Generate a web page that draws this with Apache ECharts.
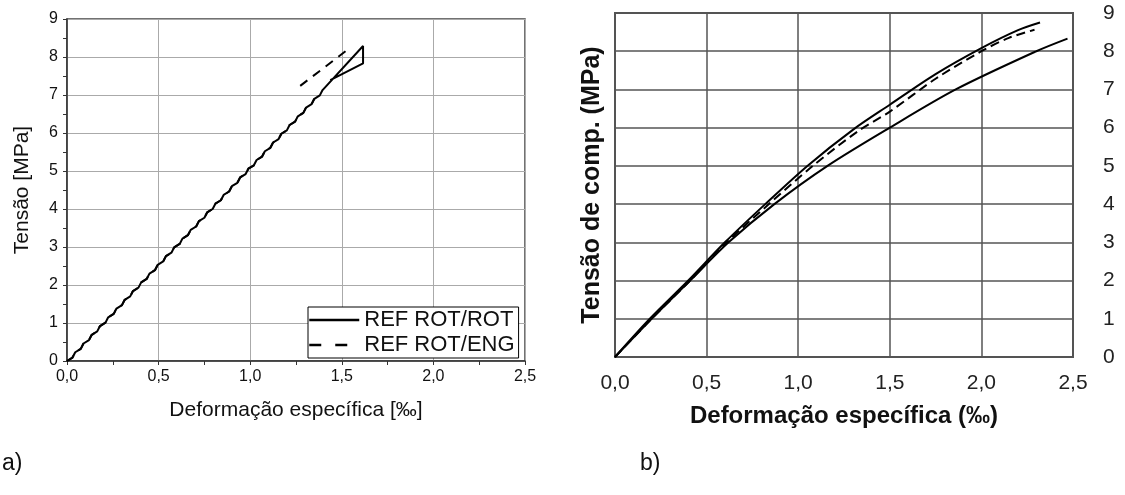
<!DOCTYPE html>
<html>
<head>
<meta charset="utf-8">
<script src="https://cdn.jsdelivr.net/npm/echarts@6/dist/echarts.min.js"></script>
<style>
  html, body { margin: 0; padding: 0; background: #fff; }
  #chart { width: 1125px; height: 495px; }
</style>
</head>
<body>
<div id="chart"></div>
<script>
// ---- a) strain [‰] vs stress [MPa], stepped loading branch shared by both tests
const loadBranch = [
  [0.000,0.00],[0.030,0.09],[0.045,0.23],[0.075,0.32],[0.090,0.46],[0.120,0.55],
  [0.135,0.69],[0.165,0.78],[0.180,0.92],[0.210,1.01],[0.225,1.15],[0.255,1.24],
  [0.270,1.38],[0.300,1.47],[0.315,1.61],[0.345,1.70],[0.360,1.84],[0.390,1.93],
  [0.405,2.07],[0.435,2.16],[0.450,2.30],[0.480,2.39],[0.495,2.53],[0.525,2.62],
  [0.540,2.76],[0.570,2.85],[0.585,2.99],[0.615,3.08],[0.630,3.22],[0.660,3.31],
  [0.675,3.45],[0.705,3.54],[0.720,3.68],[0.750,3.77],[0.765,3.91],[0.795,4.00],
  [0.810,4.14],[0.840,4.23],[0.855,4.37],[0.885,4.46],[0.900,4.60],[0.930,4.69],
  [0.945,4.83],[0.975,4.92],[0.990,5.06],[1.020,5.15],[1.035,5.29],[1.065,5.38],
  [1.080,5.52],[1.110,5.61],[1.125,5.75],[1.155,5.84],[1.170,5.98],[1.200,6.07],
  [1.215,6.21],[1.245,6.30],[1.260,6.44],[1.290,6.53],[1.305,6.67],[1.335,6.76],
  [1.350,6.90]
];
// REF ROT/ROT: continues to the peak, drops and unloads back onto the branch
const rotRotEnd = [[1.380,6.99],[1.395,7.13],[1.616,8.29],[1.616,7.83],[1.437,7.39]];
// REF ROT/ENG: separate upper segment near failure
const rotEngEnd = [[1.273,7.24],[1.528,8.18]];

// ---- b) compressive stress vs strain, three specimens
const curveUpper = [[0,0],[0.19,1],[0.40,2],[0.60,3],[0.82,4],[1.05,5],[1.30,5.95],[1.50,6.60],[1.75,7.40],[2.00,8.08],[2.20,8.55],[2.32,8.75]];
const curveDashed = [[0,0],[0.20,1],[0.41,2],[0.61,3],[0.84,4],[1.08,5],[1.33,5.92],[1.50,6.42],[1.75,7.28],[2.00,8.00],[2.15,8.35],[2.29,8.56]];
const curveLower = [[0,0],[0.20,1],[0.41,2],[0.62,3],[0.87,4],[1.16,5],[1.50,6.00],[1.86,7.00],[2.30,8.00],[2.47,8.33]];

const legendNames = ['REF ROT/ROT', 'REF ROT/ENG'];
const FONT = 'Liberation Sans, Arial, sans-serif';
const comma = v => v.toFixed(1).replace('.', ',');

const chart = echarts.init(document.getElementById('chart'), null, { renderer: 'canvas' });

chart.setOption({
  animation: false,
  backgroundColor: '#fff',
  textStyle: { fontFamily: FONT },
  grid: [
    { left: 67, top: 19, width: 458, height: 342, show: true, borderColor: '#444', borderWidth: 1.5, backgroundColor: 'transparent' },
    { left: 615, top: 13, width: 458, height: 344, show: true, borderColor: '#555', borderWidth: 2, backgroundColor: 'transparent' }
  ],
  xAxis: [
    {
      gridIndex: 0, type: 'value', min: 0, max: 2.5, interval: 0.5,
      axisLine: { show: true, onZero: false, lineStyle: { color: '#333', width: 1.5 } },
      axisTick: { show: true, length: 4, lineStyle: { color: '#333' } },
      minorTick: { show: true, splitNumber: 2, length: 4, lineStyle: { color: '#333' } },
      splitLine: { show: true, lineStyle: { color: '#aaa', width: 1 } },
      axisLabel: { fontSize: 16, color: '#111', margin: 8, formatter: comma, fontFamily: FONT },
      name: 'Deformação específica [‰]', nameLocation: 'middle', nameGap: 39,
      nameTextStyle: { fontSize: 21, color: '#111', fontFamily: FONT }
    },
    {
      gridIndex: 1, type: 'value', min: 0, max: 2.5, interval: 0.5,
      axisLine: { show: false }, axisTick: { show: false },
      splitLine: { show: true, lineStyle: { color: '#555', width: 1.5 } },
      axisLabel: { fontSize: 21, color: '#222', margin: 16, formatter: comma, fontFamily: FONT },
      name: 'Deformação específica (‰)', nameLocation: 'middle', nameGap: 47,
      nameTextStyle: { fontSize: 24, fontWeight: 'bold', color: '#111', fontFamily: FONT }
    }
  ],
  yAxis: [
    {
      gridIndex: 0, type: 'value', min: 0, max: 9, interval: 1,
      axisLine: { show: true, onZero: false, lineStyle: { color: '#333', width: 1.5 } },
      axisTick: { show: true, length: 4, lineStyle: { color: '#333' } },
      minorTick: { show: true, splitNumber: 2, length: 4, lineStyle: { color: '#333' } },
      splitLine: { show: true, lineStyle: { color: '#aaa', width: 1 } },
      axisLabel: { fontSize: 16, color: '#111', margin: 9, fontFamily: FONT },
      name: 'Tensão [MPa]', nameLocation: 'middle', nameGap: 34,
      nameTextStyle: { fontSize: 21, color: '#111', fontFamily: FONT }
    },
    {
      gridIndex: 1, type: 'value', min: 0, max: 9, interval: 1, position: 'right',
      axisLine: { show: false }, axisTick: { show: false },
      splitLine: { show: true, lineStyle: { color: '#555', width: 1.5 } },
      axisLabel: { fontSize: 21, color: '#222', margin: 30, fontFamily: FONT }
    },
    {
      gridIndex: 1, type: 'value', min: 0, max: 9, position: 'left',
      axisLine: { show: false }, axisTick: { show: false },
      splitLine: { show: false }, axisLabel: { show: false },
      name: 'Tensão de comp. (MPa)', nameLocation: 'middle', nameGap: 10,
      nameTextStyle: { fontSize: 25, fontWeight: 'bold', color: '#111', fontFamily: FONT }
    }
  ],
  legend: {
    left: 308, top: 307, orient: 'vertical',
    data: [
      { name: legendNames[0], lineStyle: { width: 2.5 } },
      { name: legendNames[1], lineStyle: { width: 2.5, type: [12, 14] } }
    ],
    itemWidth: 50, itemHeight: 14, itemGap: 3,
    padding: [2, 4, 2, 0],
    borderColor: '#000', borderWidth: 1, borderRadius: 0,
    backgroundColor: '#fff',
    itemStyle: { opacity: 0 },
    textStyle: { fontSize: 22, color: '#111', fontFamily: FONT }
  },
  graphic: [
    { type: 'text', left: 2, top: 452, style: { text: 'a)', fontSize: 23, fill: '#111', fontFamily: FONT } },
    { type: 'text', left: 640, top: 452, style: { text: 'b)', fontSize: 23, fill: '#111', fontFamily: FONT } }
  ],
  series: [
    {
      name: legendNames[1], type: 'line', xAxisIndex: 0, yAxisIndex: 0,
      symbol: 'none', connectNulls: false,
      lineStyle: { color: '#000', width: 2, type: [9, 7] },
      itemStyle: { color: '#000' },
      data: loadBranch.concat([null], rotEngEnd)
    },
    {
      name: legendNames[0], type: 'line', xAxisIndex: 0, yAxisIndex: 0,
      symbol: 'none',
      lineStyle: { color: '#000', width: 2 },
      itemStyle: { color: '#000' },
      data: loadBranch.concat(rotRotEnd)
    },
    {
      name: 'b1', type: 'line', xAxisIndex: 1, yAxisIndex: 1, symbol: 'none', smooth: 0.3,
      lineStyle: { color: '#000', width: 2 }, data: curveUpper
    },
    {
      name: 'b2', type: 'line', xAxisIndex: 1, yAxisIndex: 1, symbol: 'none', smooth: 0.3,
      lineStyle: { color: '#000', width: 2, type: [9, 5] }, data: curveDashed
    },
    {
      name: 'b3', type: 'line', xAxisIndex: 1, yAxisIndex: 1, symbol: 'none', smooth: 0.3,
      lineStyle: { color: '#000', width: 2 }, data: curveLower
    }
  ]
});
</script>
</body>
</html>
